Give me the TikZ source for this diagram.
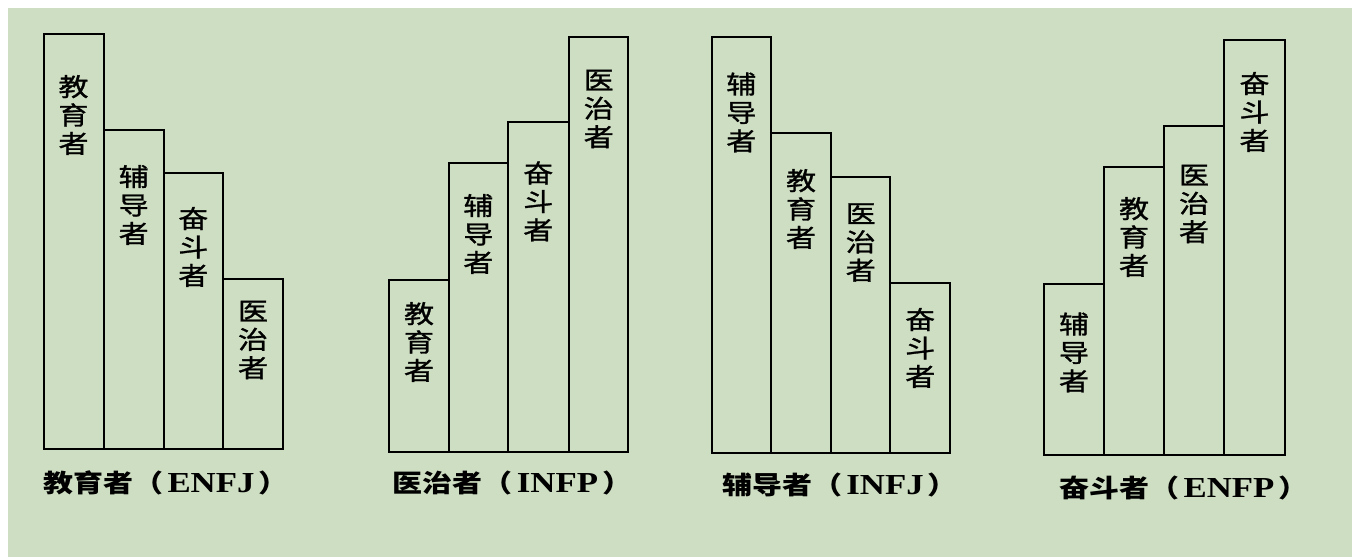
\documentclass[tikz,border=0pt]{standalone}
\usepackage{fontspec}
\newfontfamily\cjk{Noto Sans CJK SC}[FakeStretch=1.2]
\newfontfamily\cjkbar{Noto Sans CJK SC}[FakeStretch=1.2,FakeBold=1.2]
\newfontfamily\lat{Liberation Serif}
\newcommand{\mbti}[1]{\hspace{2pt}\scalebox{1.2}[1]{\lat\bfseries\fontsize{14.5}{14.5}\selectfont #1}\hspace{2pt}}
\definecolor{bg}{RGB}{206,222,194}
\begin{document}
\begin{tikzpicture}[x=0.5pt,y=-0.5pt,
  bar/.style={draw=black,line width=1pt},
  bartext/.style={font=\cjkbar\fontsize{12.5}{14.2}\selectfont,align=center,inner sep=0pt},
  grouplabel/.style={font=\cjk\bfseries\fontsize{12.5}{12.5}\selectfont,inner sep=0pt}]
\useasboundingbox (0,0) rectangle (1352,557);
\fill[white] (0,0) rectangle (1352,557);
\fill[bg] (8,8) rectangle (1352,557);
% group 1: ENFJ
\draw[bar] (44,33.5) rectangle (103.5,449.3);
\draw[bar] (103.5,130) rectangle (164,449.3);
\draw[bar] (164,172.7) rectangle (222.7,449.3);
\draw[bar] (222.7,279.3) rectangle (283.3,449.3);
\node[bartext] (a1) at (73.5,115) {教\\育\\者};
\node[bartext] (a2) at (133.7,205) {辅\\导\\者};
\node[bartext] (a3) at (193.3,247) {奋\\斗\\者};
\node[bartext] (a4) at (253,340) {医\\治\\者};
\node[grouplabel] (la) at (166,483) {教育者（\mbti{ENFJ}）};
% group 2: INFP
\draw[bar] (389,280) rectangle (449,451.7);
\draw[bar] (449,163.3) rectangle (507.7,451.7);
\draw[bar] (507.7,121.7) rectangle (569,451.7);
\draw[bar] (569,36.7) rectangle (628.3,451.7);
\node[bartext] (b1) at (419,342) {教\\育\\者};
\node[bartext] (b2) at (478.3,234) {辅\\导\\者};
\node[bartext] (b3) at (538.3,201.5) {奋\\斗\\者};
\node[bartext] (b4) at (598.7,109) {医\\治\\者};
\node[grouplabel] (lb) at (512.5,483) {医治者（\mbti{INFP}）};
% group 3: INFJ
\draw[bar] (711.7,37.3) rectangle (771,453);
\draw[bar] (771,133.3) rectangle (831,453);
\draw[bar] (831,176.7) rectangle (890.3,453);
\draw[bar] (890.3,283.3) rectangle (950,453);
\node[bartext] (c1) at (741.3,112.5) {辅\\导\\者};
\node[bartext] (c2) at (801,209) {教\\育\\者};
\node[bartext] (c3) at (860.7,242.5) {医\\治\\者};
\node[bartext] (c4) at (920.2,348) {奋\\斗\\者};
\node[grouplabel] (lc) at (840,485) {辅导者（\mbti{INFJ}）};
% group 4: ENFP
\draw[bar] (1044,284) rectangle (1104,455);
\draw[bar] (1104,167.3) rectangle (1164,455);
\draw[bar] (1164,125.7) rectangle (1224,455);
\draw[bar] (1224,40) rectangle (1285,455);
\node[bartext] (d1) at (1074,352.5) {辅\\导\\者};
\node[bartext] (d2) at (1134,237) {教\\育\\者};
\node[bartext] (d3) at (1194,204) {医\\治\\者};
\node[bartext] (d4) at (1254.5,112) {奋\\斗\\者};
\node[grouplabel] (ld) at (1184,488) {奋斗者（\mbti{ENFP}）};
\end{tikzpicture}
\end{document}
